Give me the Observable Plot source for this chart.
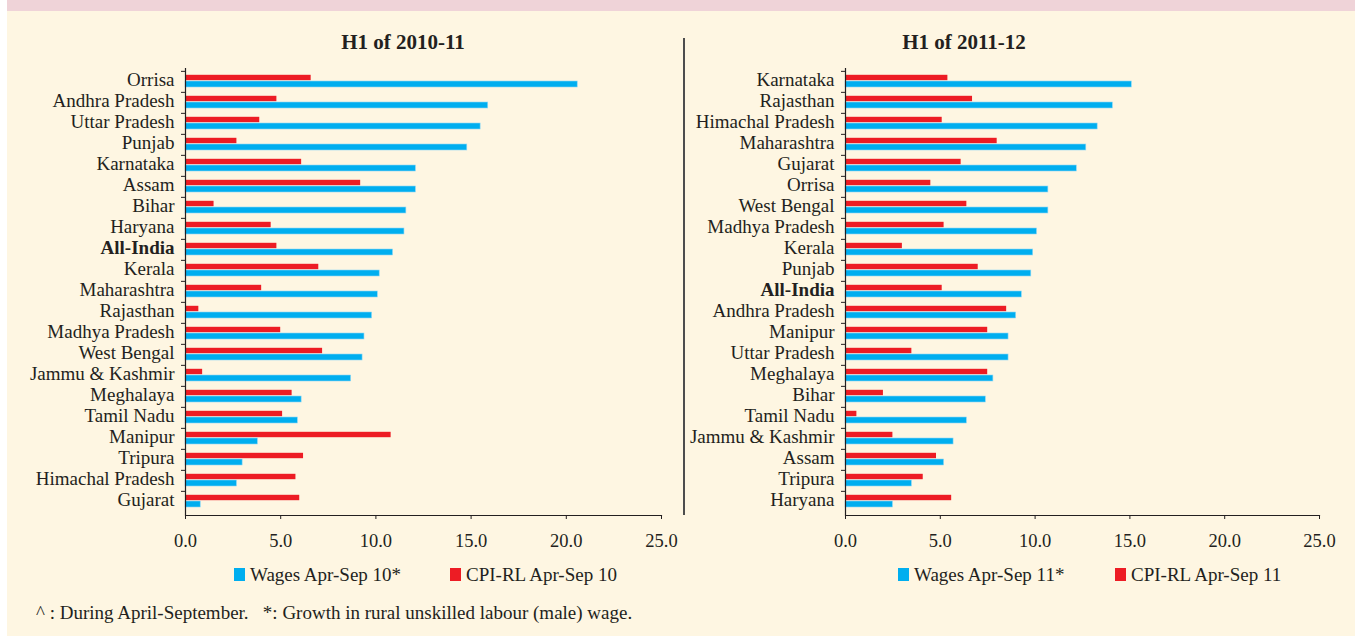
<!DOCTYPE html>
<html>
<head>
<meta charset="utf-8">
<script src="https://cdn.jsdelivr.net/npm/d3@7"></script>
<script src="https://cdn.jsdelivr.net/npm/@observablehq/plot@0.6"></script>
<style>
  html, body { margin: 0; padding: 0; background: #ffffff; }
  #page { position: relative; width: 1355px; height: 636px; overflow: hidden; background: #ffffff;
          font-family: "Liberation Serif", "DejaVu Serif", serif; color: #231f20; }
  #cream { position: absolute; left: 7px; top: 0; width: 1348px; height: 636px; background: #fef6e2; }
  #band { position: absolute; left: 7px; top: 0; width: 1348px; height: 11px; background: #efd3d8; }
  .title { position: absolute; width: 300px; text-align: center; font-weight: bold; font-size: 21px; line-height: 22px; }
  .chart { position: absolute; top: 60px; }
  .sw { position: absolute; width: 11px; height: 13px; }
  .lt { position: absolute; font-size: 19px; line-height: 20px; white-space: nowrap; }
  #divider { position: absolute; left: 683px; top: 38px; width: 1.5px; height: 477px; background: #4d4d4d; }
</style>
</head>
<body>
<div id="page">
  <div id="cream"></div>
  <div id="band"></div>
  <div class="title" style="left:253px; top:31px;">H1 of 2010-11</div>
  <div class="title" style="left:814px; top:31px;">H1 of 2011-12</div>
  <div id="divider"></div>
  <div id="left" class="chart" style="left:0px;"></div>
  <div id="right" class="chart" style="left:680px;"></div>
  <div id="legendLeft"></div>
  <div id="legendRight"></div>
  <div class="lt" style="left:36px; top:603px;">^ : During April-September.&nbsp;&nbsp; *: Growth in rural unskilled labour (male) wage.</div>
</div>
<script>
// ---- Data: H1 of 2010-11 ----
const states2010 = ["Orrisa", "Andhra Pradesh", "Uttar Pradesh", "Punjab", "Karnataka", "Assam", "Bihar",
  "Haryana", "All-India", "Kerala", "Maharashtra", "Rajasthan", "Madhya Pradesh", "West Bengal",
  "Jammu & Kashmir", "Meghalaya", "Tamil Nadu", "Manipur", "Tripura", "Himachal Pradesh", "Gujarat"];
const wages2010 = [20.6, 15.9, 15.5, 14.8, 12.1, 12.1, 11.6, 11.5, 10.9, 10.2, 10.1, 9.8, 9.4, 9.3,
  8.7, 6.1, 5.9, 3.8, 3.0, 2.7, 0.8];
const cpi2010 = [6.6, 4.8, 3.9, 2.7, 6.1, 9.2, 1.5, 4.5, 4.8, 7.0, 4.0, 0.7, 5.0, 7.2,
  0.9, 5.6, 5.1, 10.8, 6.2, 5.8, 6.0];

// ---- Data: H1 of 2011-12 ----
const states2011 = ["Karnataka", "Rajasthan", "Himachal Pradesh", "Maharashtra", "Gujarat", "Orrisa",
  "West Bengal", "Madhya Pradesh", "Kerala", "Punjab", "All-India", "Andhra Pradesh", "Manipur",
  "Uttar Pradesh", "Meghalaya", "Bihar", "Tamil Nadu", "Jammu & Kashmir", "Assam", "Tripura", "Haryana"];
const wages2011 = [15.1, 14.1, 13.3, 12.7, 12.2, 10.7, 10.7, 10.1, 9.9, 9.8, 9.3, 9.0, 8.6,
  8.6, 7.8, 7.4, 6.4, 5.7, 5.2, 3.5, 2.5];
const cpi2011 = [5.4, 6.7, 5.1, 8.0, 6.1, 4.5, 6.4, 5.2, 3.0, 7.0, 5.1, 8.5, 7.5,
  3.5, 7.5, 2.0, 0.6, 2.5, 4.8, 4.1, 5.6];

const xTicks = [0, 5, 10, 15, 20, 25];
const seriesNames2010 = ["Wages Apr-Sep 10*", "CPI-RL Apr-Sep 10"];
const seriesNames2011 = ["Wages Apr-Sep 11*", "CPI-RL Apr-Sep 11"];
const colors = {wages: "#00aeef", cpi: "#ed1c24"};
const ink = "#231f20";

function makeChart(states, wages, cpi, {width, marginLeft, marginRight}) {
  const data = states.map((s, i) => ({state: s, wages: wages[i], cpi: cpi[i]}));
  const height = 495, marginTop = 8, marginBottom = 40;
  const bw = (height - marginTop - marginBottom) / states.length;
  return Plot.plot({
    width, height, marginLeft, marginRight, marginTop, marginBottom,
    style: {background: "transparent", fontFamily: "'Liberation Serif', 'DejaVu Serif', serif",
            fontSize: "19px", color: ink, overflow: "visible"},
    x: {domain: [0, 25], label: null},
    y: {domain: states, padding: 0, label: null},
    marks: [
      Plot.barX(data, {x: "cpi", y: "state", fill: colors.cpi, insetTop: 3.8, insetBottom: 11.8}),
      Plot.barX(data, {x: "wages", y: "state", fill: colors.wages, insetTop: 10, insetBottom: 5,
                       stroke: "#8fd8f5", strokeWidth: 0.6}),
      Plot.ruleX([0], {stroke: ink, strokeWidth: 1.2}),
      Plot.frame({anchor: "bottom", stroke: ink, strokeWidth: 1.2}),
      Plot.axisX({ticks: xTicks, tickFormat: d => d.toFixed(1), tickSize: 4, tickPadding: 14,
                  fontSize: 18.5, stroke: ink, label: null}),
      Plot.axisY({tickSize: 4, tickFormat: () => "", dy: -bw / 2, stroke: ink, label: null}),
      Plot.text(data.filter(d => d.state !== "All-India"),
        {x: 0, y: "state", text: "state", textAnchor: "end", dx: -11, dy: -2, fill: ink, fontSize: 19}),
      Plot.text(data.filter(d => d.state === "All-India"),
        {x: 0, y: "state", text: "state", textAnchor: "end", dx: -11, dy: -2, fill: ink, fontSize: 19,
         fontWeight: "bold"})
    ]
  });
}

document.getElementById("left").append(
  makeChart(states2010, wages2010, cpi2010, {width: 680, marginLeft: 185, marginRight: 19}));
document.getElementById("right").append(
  makeChart(states2011, wages2011, cpi2011, {width: 675, marginLeft: 165, marginRight: 36}));

function legend(el, names, positions) {
  const keys = ["wages", "cpi"];
  const host = document.getElementById(el);
  names.forEach((n, i) => {
    const sw = document.createElement("div");
    sw.className = "sw";
    sw.style.left = positions[i] + "px";
    sw.style.top = "568px";
    sw.style.background = colors[keys[i]];
    host.append(sw);
    const t = document.createElement("div");
    t.className = "lt";
    t.style.left = (positions[i] + 16) + "px";
    t.style.top = "565px";
    t.textContent = n;
    host.append(t);
  });
}
legend("legendLeft", seriesNames2010, [234, 450]);
legend("legendRight", seriesNames2011, [898, 1115]);
</script>
</body>
</html>
